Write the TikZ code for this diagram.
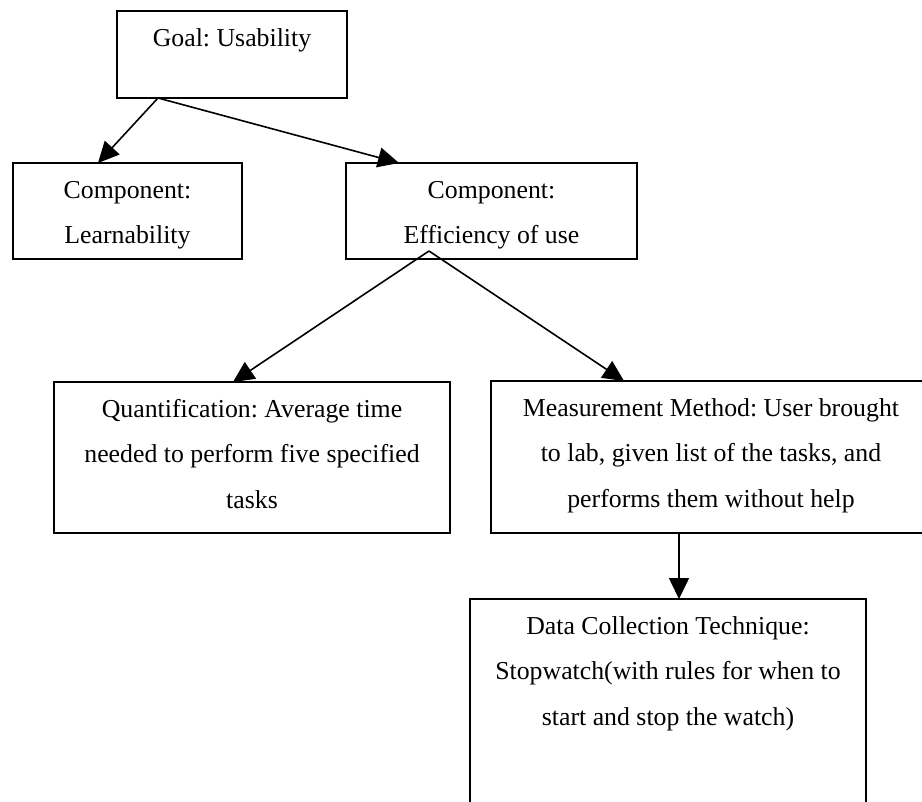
\documentclass[tikz,border=0pt]{standalone}
\usepackage{fontspec}
\setmainfont{Liberation Serif}
\usetikzlibrary{arrows.meta}
\frenchspacing
\begin{document}
\begin{tikzpicture}[x=1pt,y=-1pt,
  box/.style={draw, line width=1.6pt, rectangle, inner sep=0pt, outer sep=0pt, anchor=north west},
  boxtext/.style={anchor=north, inner sep=0pt, align=center,
    font=\fontsize{25.8pt}{45.5pt}\selectfont},
  link/.style={line width=1.6pt, -{Triangle[length=21pt,width=20pt]}}]
  % page area
  \fill[white] (0,0) rectangle (922,802);
  \useasboundingbox (0,0) rectangle (922,802);
  \clip (0,0) rectangle (922,802);

  % boxes
  \node[box, minimum width=230pt, minimum height=87pt]  (goal)  at (117,11)  {};
  \node[box, minimum width=229pt, minimum height=96pt]  (learn) at (13,163)  {};
  \node[box, minimum width=291pt, minimum height=96pt]  (eff)   at (346,163) {};
  \node[box, minimum width=396pt, minimum height=151pt] (quant) at (54,382)  {};
  \node[box, minimum width=440pt, minimum height=152pt] (meas)  at (491,381) {};
  \node[box, minimum width=396pt, minimum height=260pt] (data)  at (470,599) {};

  % box texts
  \node[boxtext] (goal-t)  at ([yshift=-15pt]goal.north)  {\rule{0pt}{20pt}Goal: Usability};
  \node[boxtext] (learn-t) at ([yshift=-15pt]learn.north) {\rule{0pt}{20pt}Component:\\Learnability};
  \node[boxtext] (eff-t)   at ([yshift=-15pt]eff.north)   {\rule{0pt}{20pt}Component:\\Efficiency of use};
  \node[boxtext] (quant-t) at ([yshift=-15pt]quant.north) {\rule{0pt}{20pt}Quantification: Average time\\needed to perform five specified\\tasks};
  \node[boxtext] (meas-t)  at ([yshift=-15pt]meas.north)  {\rule{0pt}{20pt}Measurement Method: User brought\\to lab, given list of the tasks, and\\performs them without help};
  \node[boxtext] (data-t)  at ([yshift=-15pt]data.north)  {\rule{0pt}{20pt}Data Collection Technique:\\Stopwatch(with rules for when to\\start and stop the watch)};

  % connectors
  \coordinate (goal-out) at ([xshift=41pt]goal.south west);
  \coordinate (eff-out)  at ([xshift=83pt,yshift=8pt]eff.south west);
  \draw[link] (goal-out) -- ([xshift=85pt]learn.north west);
  \draw[link] (goal-out) -- ([xshift=53pt]eff.north west);
  \draw[link] (eff-out)  -- ([xshift=179pt]quant.north west);
  \draw[link] (eff-out)  -- ([xshift=133pt]meas.north west);
  \draw[link] ([xshift=188pt]meas.south west) -- ([xshift=209pt]data.north west);
\end{tikzpicture}
\end{document}
